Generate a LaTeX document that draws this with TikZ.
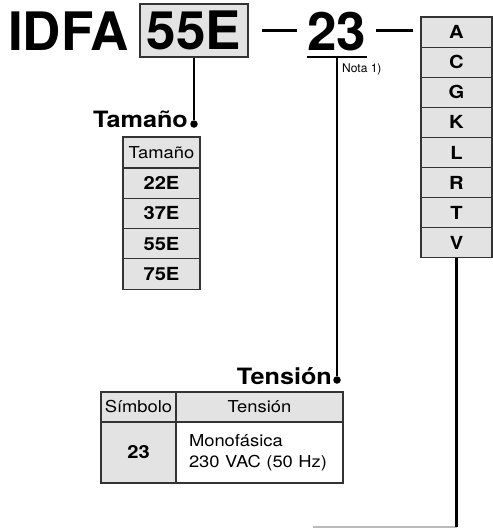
\documentclass[tikz,border=0pt]{standalone}
\usepackage{fontspec}
\setmainfont{TeX Gyre Heros}
\newfontfamily\widefont[FakeStretch=1.12]{TeX Gyre Heros}
\usetikzlibrary{positioning}
\definecolor{cellgray}{HTML}{E3E3E3}
\definecolor{rulegray}{HTML}{333333}

\begin{document}
\begin{tikzpicture}[
    x=1pt, y=-1pt,
    node distance=0pt,
    big/.style={inner sep=0pt, font=\fontsize{53}{53}\selectfont\bfseries},
    lbl/.style={inner sep=0pt, anchor=base east, font=\widefont\bfseries\fontsize{22.5}{22.5}\selectfont},
    cell/.style={draw=rulegray, line width=1.1pt, fill=cellgray, inner sep=0pt, outer sep=0pt, font=\widefont\bfseries\fontsize{18}{18}\selectfont},
    plain/.style={font=\widefont\fontsize{16.4}{21}\selectfont},
    conn/.style={line width=2.2pt},
    sep/.style={line width=3pt},
    dot/.style={circle, fill, inner sep=0pt, minimum size=7.5pt}
  ]
  \useasboundingbox (0,0) rectangle (493,528);

  % model code
  \node[big, anchor=base west] (idfa) at (8,50) {IDFA};
  \node[big, draw=rulegray, line width=1.3pt, fill=cellgray, minimum width=108pt, minimum height=53pt] (size) at (194,30.5) {55E};
  \node[big, anchor=base] (volt) at (336.5,50) {23};
  \coordinate (ul1) at (307,57);
  \coordinate (ul2) at (367,57);
  \coordinate (ulmid) at (337,57);
  \node[anchor=base west, inner sep=0pt, font=\fontsize{12}{12}\selectfont] (nota) at (342,72) {Nota 1)};

  % options column
  \foreach \l [count=\i] in {A,C,G,K,L,R,T,V}
    \node[cell, minimum width=71pt, minimum height=30.1pt] (opt\i) at (456.5,1.95+30.1*\i) {\l};

  \draw[sep, shorten <=13pt, shorten >=10pt] (size.east) -- (size.east -| volt.west);
  \draw[sep, shorten <=10pt, shorten >=8pt] (volt.east |- size.east) -- (size.east -| opt1.west);
  \draw[conn] (ul1) -- (ul2);

  % size table
  \node[lbl] (szlbl) at (188,127) {Tamaño};
  \node[dot] (szdot) at (194,124) {};
  \draw[conn] (size.south) -- (szdot);
  \node[cell, plain, minimum width=77pt, minimum height=31pt] (szhead) at (161.5,152.5) {Tamaño};
  \node[cell, minimum width=77pt, minimum height=30.3pt, below=of szhead] (sz1) {22E};
  \node[cell, minimum width=77pt, minimum height=30.3pt, below=of sz1] (sz2) {37E};
  \node[cell, minimum width=77pt, minimum height=30.3pt, below=of sz2] (sz3) {55E};
  \node[cell, minimum width=77pt, minimum height=30.3pt, below=of sz3] (sz4) {75E};

  % voltage table
  \node[lbl] (vlbl) at (332,384) {Tensión};
  \node[dot] (vdot) at (337,380) {};
  \draw[conn] (ulmid) -- (vdot);
  \node[cell, plain, minimum width=75pt, minimum height=30pt] (symhead) at (138.5,407) {Símbolo};
  \node[cell, plain, minimum width=167pt, minimum height=30pt, right=of symhead] (vhead) {Tensión};
  \node[cell, minimum width=75pt, minimum height=61pt, below=of symhead] (symval) {23};
  \node[cell, plain, fill=white, minimum height=61pt, below=of vhead, inner xsep=13pt, text width=141pt, align=left] (vval) {Monofásica\\230 VAC (50 Hz)};

  % link to the next table
  \coordinate (cutend) at (456.5,527);
  \coordinate (cutleft) at (313,527);
  \draw[gray!55, line width=1.2pt] (cutleft) -- (cutend);
  \draw[conn] (opt8.south) -- (cutend);
\end{tikzpicture}
\end{document}
